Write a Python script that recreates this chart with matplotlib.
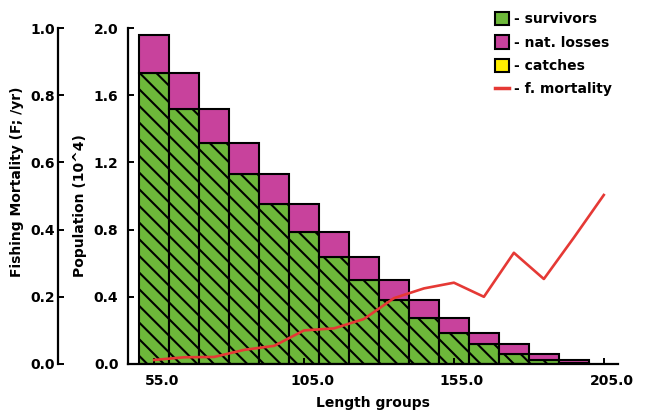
import numpy as np
import matplotlib
matplotlib.use('Agg')
import matplotlib.pyplot as plt
from matplotlib.patches import Patch
from matplotlib.lines import Line2D
from matplotlib.transforms import ScaledTranslation

# length group midpoints (bars)
length_groups = [55, 65, 75, 85, 95, 105, 115, 125, 135, 145, 155, 165, 175, 185, 195]
survivors = [1.734, 1.52, 1.314, 1.129, 0.951, 0.788, 0.635, 0.50, 0.381, 0.272,
             0.183, 0.119, 0.06, 0.026, 0.006]
nat_losses = [0.226, 0.214, 0.206, 0.185, 0.178, 0.163, 0.153, 0.135, 0.119, 0.109,
              0.089, 0.064, 0.059, 0.034, 0.020]

# fishing mortality curve
f_lengths = [55, 65, 75, 85, 95, 105, 115, 125, 135, 145, 155, 165, 175, 185, 195, 205]
f_mortality = [0.012, 0.020, 0.021, 0.042, 0.054, 0.100, 0.106, 0.134, 0.196, 0.225,
               0.242, 0.200, 0.331, 0.253, 0.376, 0.503]

x_ticks = [55, 105, 155, 205]
pop_ticks = [0.0, 0.4, 0.8, 1.2, 1.6, 2.0]
f_ticks = [0.0, 0.2, 0.4, 0.6, 0.8, 1.0]

green = '#6db83a'
pink = '#c8429c'
yellow = '#ffee00'
red = '#e53935'

plt.rcParams['font.family'] = ['DejaVu Sans']
plt.rcParams['font.weight'] = 'bold'
plt.rcParams['hatch.linewidth'] = 1.5

fig = plt.figure(figsize=(6.47, 4.15), dpi=100)
ax = fig.add_axes([0.198, 0.1229, 0.757, 0.8096])

ax.bar(length_groups, survivors, width=10, color=green, edgecolor='black',
       linewidth=1.5, hatch='\\\\')
ax.bar(length_groups, nat_losses, width=10, bottom=survivors, color=pink,
       edgecolor='black', linewidth=1.5)

ax.set_xlim(46.3, 209.7)
ax.set_ylim(0, 2.0)
ax.set_xticks(x_ticks)
ax.set_xticklabels(['%.1f' % v for v in x_ticks])
ax.set_yticks(pop_ticks)
ax.set_yticklabels(['%.1f' % v for v in pop_ticks])
for s in ['top', 'right']:
    ax.spines[s].set_visible(False)
for s in ['left', 'bottom']:
    ax.spines[s].set_linewidth(1.6)
ax.tick_params(direction='in', length=4, width=1.4, labelsize=10)
ax.tick_params(axis='y', pad=7)
ax.tick_params(axis='x', pad=7)
for lab in ax.get_xticklabels():
    lab.set_transform(lab.get_transform() + ScaledTranslation(0.08, 0, fig.dpi_scale_trans))

# fishing mortality axis
ax2 = ax.twinx()
ax2.plot(f_lengths, f_mortality, color=red, linewidth=1.9, clip_on=False)
ax2.set_ylim(0, 1.0)
ax2.spines['left'].set_position(('outward', 50.4))
ax2.spines['left'].set_linewidth(1.6)
for s in ['top', 'right', 'bottom']:
    ax2.spines[s].set_visible(False)
ax2.yaxis.set_ticks_position('left')
ax2.set_yticks(f_ticks)
ax2.set_yticklabels(['%.1f' % v for v in f_ticks])
ax2.tick_params(direction='in', length=4, width=1.4, labelsize=10, pad=2)

# axis titles
fig.text(0.5765, 0.012, 'Length groups', ha='center', va='bottom', fontsize=10)
fig.text(17 / 647, 1 - 277 / 415, 'Fishing Mortality (F; /yr)', rotation=90,
         ha='center', va='bottom', fontsize=10)
fig.text(80 / 647, 1 - 277 / 415, 'Population (10^4)', rotation=90,
         ha='center', va='bottom', fontsize=10)

handles = [
    Patch(facecolor=green, edgecolor='black', linewidth=1.5, hatch='\\'),
    Patch(facecolor=pink, edgecolor='black', linewidth=1.5),
    Patch(facecolor=yellow, edgecolor='black', linewidth=1.5),
    Line2D([], [], color=red, linewidth=2.5),
]
labels = ['- survivors', '- nat. losses', '- catches', '- f. mortality']
fig.legend(handles, labels, loc='upper left', bbox_to_anchor=(0.756, 0.985),
           frameon=False, fontsize=10, handlelength=1.0, handleheight=1.1,
           handletextpad=0.4, labelspacing=0.65, borderaxespad=0)

fig.savefig('out.png', dpi=100)
